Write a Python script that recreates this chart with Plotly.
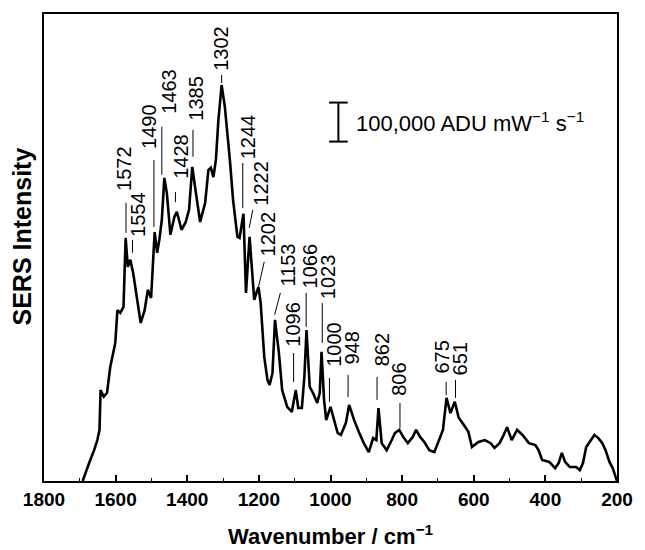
import plotly.graph_objects as go

# ---------------- data ----------------
wavenumber = [1692,1683,1674,1660,1651,1645,1642,1633,1624,1615,1601,1595,1587,1578,1572,1566,1559,1551,1540,1530,
              1519,1510,1501,1491,1484,1478,1471,1464,1457,1447,1436,1429,1416,1405,1395,1386,1375,1364,1350,1341,
              1334,1327,1320,1313,1304,1295,1281,1272,1260,1254,1243,1236,1226,1219,1213,1206,1201,1195,1185,1176,
              1170,1162,1155,1144,1135,1121,1108,1097,1090,1080,1073,1067,1058,1049,1037,1030,1025,1018,1012,1000,
              989,980,971,957,948,934,921,907,893,881,872,866,857,843,829,820,808,797,784,770,
              761,750,738,724,710,697,686,676,665,653,642,628,615,605,587,569,553,542,528,519,
              507,494,479,464,446,428,419,409,389,373,363,354,345,332,314,304,295,286,274,263,
              252,241,232,221,212,204,200]
intensity_k = [0,24,46,79,105,131,233,216,226,292,354,438,431,446,623,549,567,533,464,405,
               438,490,469,638,585,618,669,777,738,631,677,690,644,662,695,805,733,664,713,797,
               803,779,823,926,1015,959,823,720,626,623,685,482,626,549,464,485,497,456,318,259,
               246,277,413,328,233,190,177,233,187,187,267,387,241,226,200,226,331,208,156,190,
               149,123,118,149,195,156,126,97,74,110,105,187,97,79,105,123,131,113,97,113,
               131,113,100,79,74,105,131,213,174,203,162,144,126,87,100,105,97,85,97,113,
               138,105,131,118,97,92,79,54,49,33,46,72,49,36,36,28,46,87,105,118,
               110,97,79,49,33,10,0]
intensity = [v * 1000 for v in intensity_k]

peak_labels = ["1572","1554","1490","1463","1428","1385","1302","1244","1222","1202","1153",
               "1096","1066","1023","1000","948","862","806","675","651"]

x_ticks = [1800, 1600, 1400, 1200, 1000, 800, 600, 400, 200]
x_ticktext = ["1800", "1600", "1400", "1200", "1000", "800", "600", "400", "200"]

scale_value = 100000  # ADU mW^-1 s^-1

# ---------------- label layout (leader line start/end, text centre/bottom) ----------------
# (x0, y0k, x1, y1k, tx, tyk)
label_layout = [
    (1571, 636, 1571, 713, 1575, 741),
    (1553, 585, 1553, 618, 1536, 623),
    (1493, 651, 1493, 823, 1505, 849),
    (1471, 785, 1471, 908, 1453, 938),
    (1433, 715, 1433, 741, 1416, 772),
    (1384, 831, 1384, 900, 1378, 920),
    (1304, 1020, 1304, 1041, 1304, 1049),
    (1245, 700, 1245, 815, 1228, 823),
    (1227, 649, 1217, 695, 1194, 702),
    (1201, 498, 1185, 562, 1175, 574),
    (1156, 426, 1140, 482, 1118, 495),
    (1103, 254, 1103, 328, 1104, 341),
    (1068, 395, 1068, 482, 1057, 490),
    (1023, 354, 1023, 456, 1005, 464),
    (1003, 203, 1003, 264, 989, 290),
    (951, 215, 951, 272, 940, 297),
    (870, 208, 870, 267, 857, 292),
    (806, 136, 806, 200, 811, 215),
    (677, 220, 677, 254, 688, 272),
    (651, 213, 651, 259, 638, 267),
]

FONT = "Liberation Sans, Arial, sans-serif"

fig = go.Figure()
fig.add_trace(go.Scatter(x=wavenumber, y=intensity, mode="lines",
                         line=dict(color="black", width=2.6), hoverinfo="skip"))

shapes = []
annotations = []
for lab, (x0, y0, x1, y1, tx, ty) in zip(peak_labels, label_layout):
    shapes.append(dict(type="line", xref="x", yref="y", x0=x0, y0=y0 * 1000, x1=x1, y1=y1 * 1000,
                       line=dict(color="black", width=1)))
    annotations.append(dict(x=tx, y=ty * 1000, xref="x", yref="y", text=lab, showarrow=False,
                            textangle=-90, xanchor="center", yanchor="bottom",
                            font=dict(family=FONT, size=20, color="black"), borderpad=0))

# scale bar
sb_x = 978
sb_y0 = 870000
shapes.append(dict(type="line", xref="x", yref="y", x0=sb_x, x1=sb_x, y0=sb_y0, y1=sb_y0 + scale_value,
                   line=dict(color="black", width=2)))
for yy in (sb_y0, sb_y0 + scale_value):
    shapes.append(dict(type="line", xref="x", yref="y", x0=sb_x + 26, x1=sb_x - 26, y0=yy, y1=yy,
                       line=dict(color="black", width=2)))
annotations.append(dict(x=sb_x - 45, y=sb_y0 + scale_value / 2, xref="x", yref="y",
                        text="100,000 ADU mW<sup>\u22121</sup> s<sup>\u22121</sup>", showarrow=False,
                        xanchor="left", yanchor="middle",
                        font=dict(family=FONT, size=22, color="black")))

# axis titles
annotations.append(dict(x=0, y=0.5236, xref="paper", yref="paper", xshift=-22, text="<b>SERS Intensity</b>",
                        showarrow=False, textangle=-90, xanchor="center", yanchor="middle",
                        font=dict(family=FONT, size=25, color="black")))
annotations.append(dict(x=0.5, y=0, xref="paper", yref="paper", yshift=-54,
                        text="<b>Wavenumber / cm<sup>\u22121</sup></b>",
                        showarrow=False, xanchor="center", yanchor="middle",
                        font=dict(family=FONT, size=22, color="black")))

fig.update_layout(
    width=645, height=550,
    margin=dict(l=44, r=18, t=14, b=69),
    paper_bgcolor="white", plot_bgcolor="white",
    showlegend=False,
    shapes=shapes, annotations=annotations,
    xaxis=dict(range=[1800, 200], tickmode="array", tickvals=x_ticks, ticktext=x_ticktext,
               ticks="inside", ticklen=6, tickwidth=1.5, tickcolor="black",
               minor=dict(ticks="inside", ticklen=3, tickwidth=1.2, dtick=100, tickcolor="black"),
               showline=True, linewidth=2, linecolor="black", mirror=True,
               showgrid=False, zeroline=False,
               tickfont=dict(family=FONT, size=19, color="black", weight="bold")),
    yaxis=dict(range=[0, 1197000], showticklabels=False, ticks="",
               showline=True, linewidth=2, linecolor="black", mirror=True,
               showgrid=False, zeroline=False),
)

fig.write_html("out.html")
